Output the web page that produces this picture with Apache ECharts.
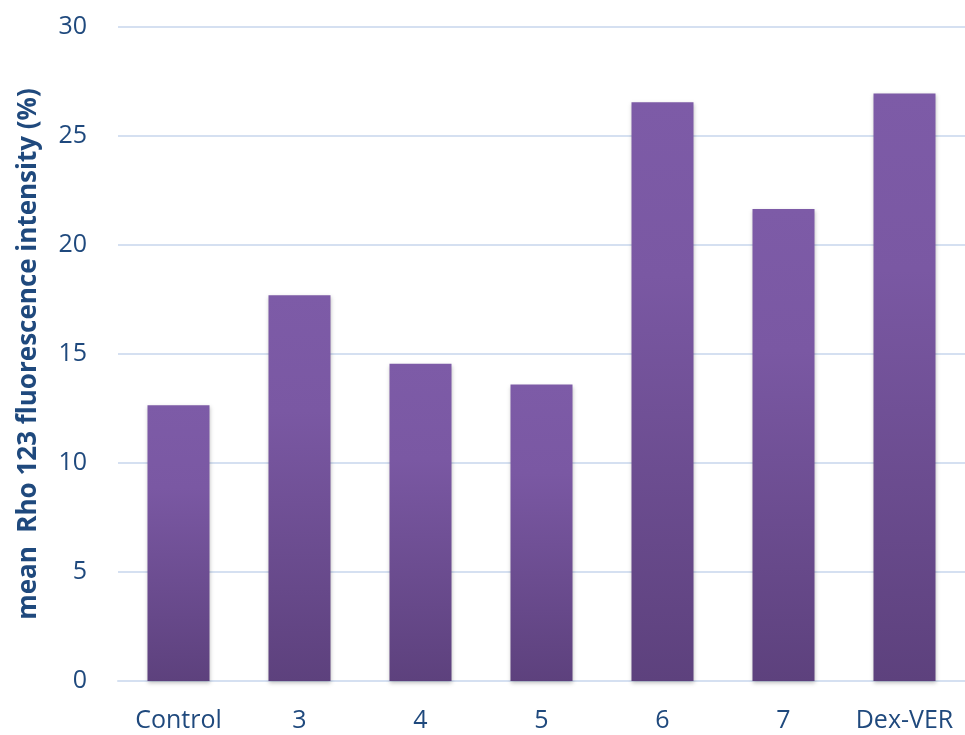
<!DOCTYPE html>
<html>
<head>
<meta charset="utf-8">
<script src="https://cdn.jsdelivr.net/npm/echarts@6/dist/echarts.min.js"></script>
<style>
  html, body { margin: 0; padding: 0; background: #fff; }
  #chart { width: 965px; height: 735px; }
</style>
</head>
<body>
<div id="chart"></div>
<script>
// categories and values
var groups = ['Control', '3', '4', '5', '6', '7', 'Dex-VER'];
var rho123 = [12.65, 17.7, 14.55, 13.6, 26.55, 21.65, 26.95];
var yTicks = [0, 5, 10, 15, 20, 25, 30];

var labelColor = '#1f497d';
var chart = echarts.init(document.getElementById('chart'));

var option = {
    animation: false,
    backgroundColor: '#fff',
    grid: { left: 118, right: 0, top: 27, bottom: 54 },
    xAxis: {
        type: 'category',
        data: groups,
        axisLine: { lineStyle: { color: '#d5e0f1', width: 2 } },
        axisTick: { show: false },
        axisLabel: { interval: 0, color: labelColor, fontSize: 25, fontFamily: 'Open Sans', margin: 27 }
    },
    yAxis: {
        type: 'value',
        min: yTicks[0],
        max: yTicks[yTicks.length - 1],
        interval: 5,
        name: 'mean  Rho 123 fluorescence intensity (%)',
        nameLocation: 'middle',
        nameGap: 76,
        nameTextStyle: { color: labelColor, fontSize: 26, fontWeight: 'bold', fontFamily: 'Open Sans' },
        axisLine: { show: false },
        axisTick: { show: false },
        axisLabel: { color: labelColor, fontSize: 25, fontFamily: 'Open Sans', margin: 31 },
        splitLine: { lineStyle: { color: '#d5e0f1', width: 2 } }
    },
    series: [{
        type: 'bar',
        data: rho123,
        barWidth: 62,
        itemStyle: {
            color: new echarts.graphic.LinearGradient(0, 0, 0, 1, [
                { offset: 0, color: '#7d5ba7' },
                { offset: 0.3, color: '#7a58a3' },
                { offset: 1, color: '#5d417d' }
            ]),
            shadowColor: 'rgba(0,0,0,0.25)',
            shadowBlur: 4,
            shadowOffsetY: 2
        }
    }]
};
chart.setOption(option);
</script>
</body>
</html>
